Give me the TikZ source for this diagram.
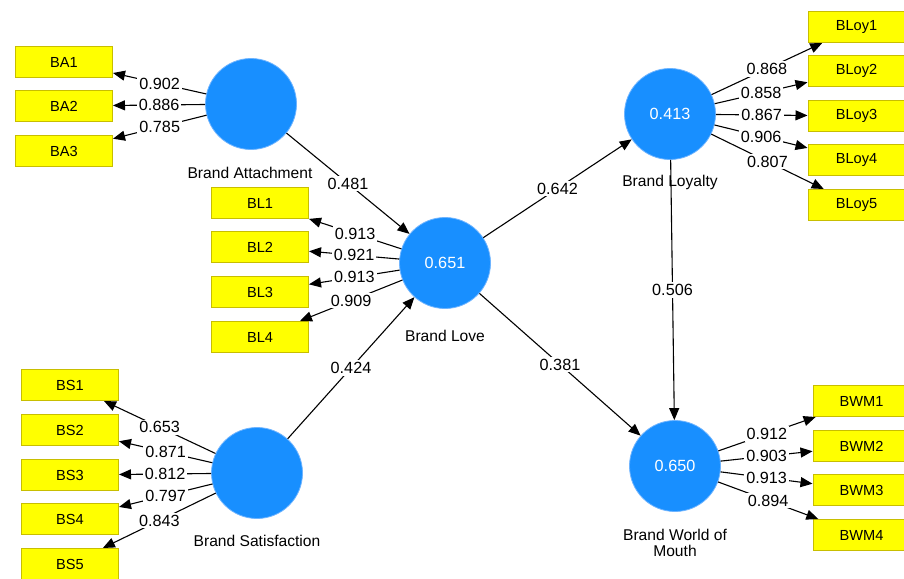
\documentclass[tikz,border=0pt]{standalone}
\usepackage{fontspec}
\setmainfont{Liberation Sans}
\usetikzlibrary{arrows.meta}
\definecolor{lvblue}{RGB}{24,143,255}
\definecolor{lvedge}{RGB}{110,180,255}
\definecolor{boxyellow}{RGB}{255,255,0}
\definecolor{boxedge}{RGB}{200,190,0}
\tikzset{
  lv/.style={circle, fill=lvblue, draw=lvedge, line width=0.8pt, minimum size=91pt, inner sep=0pt, text=white, font=\fontsize{16.2}{19}\selectfont},
  ind/.style={rectangle, fill=boxyellow, draw=boxedge, line width=1pt, minimum width=97pt, minimum height=31pt, inner sep=0pt, font=\fontsize{14.6}{17}\selectfont},
  lvname/.style={font=\fontsize{15.6}{16.5}\selectfont, align=center},
  arr/.style={line width=1.1pt, -{Triangle[length=12pt,width=10pt]}},
  lbl/.style={fill=white, inner sep=2pt, font=\fontsize{16.2}{19}\selectfont}
}
\begin{document}
\begin{tikzpicture}[x=1pt,y=-1pt]
\useasboundingbox (0,0) rectangle (904,578);
\fill[white] (0,0) rectangle (904,578);
% latent variables
\node[lv] (BA) at (251,104) {};
\node[lv] (BL) at (445,263) {0.651};
\node[lv] (BS) at (257,473) {};
\node[lv] (BLoy) at (670,114) {0.413};
\node[lv] (BWM) at (675,466) {0.650};
% names
\node[lvname] (nBA) at (250,173) {Brand Attachment};
\node[lvname] (nBL) at (445,336) {Brand Love};
\node[lvname] (nBS) at (257,541) {Brand Satisfaction};
\node[lvname] (nBLoy) at (670,182) {Brand Loyalty};
\node[lvname] (nBWM) at (675,543) {Brand World of\\Mouth};
% indicators
\node[ind] (BA1) at (64,62) {BA1};
\node[ind] (BA2) at (64,106) {BA2};
\node[ind] (BA3) at (64,151) {BA3};
\node[ind] (BL1) at (260,203) {BL1};
\node[ind] (BL2) at (260,247) {BL2};
\node[ind] (BL3) at (260,292) {BL3};
\node[ind] (BL4) at (260,337) {BL4};
\node[ind] (BS1) at (70,385) {BS1};
\node[ind] (BS2) at (70,430) {BS2};
\node[ind] (BS3) at (70,475) {BS3};
\node[ind] (BS4) at (70,519) {BS4};
\node[ind] (BS5) at (70,564) {BS5};
\node[ind] (BLoy1) at (856.5,27) {BLoy1};
\node[ind] (BLoy2) at (856.5,71) {BLoy2};
\node[ind] (BLoy3) at (856.5,116) {BLoy3};
\node[ind] (BLoy4) at (856.5,160) {BLoy4};
\node[ind] (BLoy5) at (856.5,205) {BLoy5};
\node[ind] (BWM1) at (861.5,401) {BWM1};
\node[ind] (BWM2) at (861.5,446) {BWM2};
\node[ind] (BWM3) at (861.5,490) {BWM3};
\node[ind] (BWM4) at (861.5,535) {BWM4};
% loadings
\draw[arr] (BA) -- node[lbl] {0.902} (BA1);
\draw[arr] (BA) -- node[lbl] {0.886} (BA2);
\draw[arr] (BA) -- node[lbl] {0.785} (BA3);
\draw[arr] (BL) -- node[lbl] {0.913} (BL1);
\draw[arr] (BL) -- node[lbl] {0.921} (BL2);
\draw[arr] (BL) -- node[lbl] {0.913} (BL3);
\draw[arr] (BL) -- node[lbl] {0.909} (BL4);
\draw[arr] (BS) -- node[lbl] {0.653} (BS1);
\draw[arr] (BS) -- node[lbl] {0.871} (BS2);
\draw[arr] (BS) -- node[lbl] {0.812} (BS3);
\draw[arr] (BS) -- node[lbl] {0.797} (BS4);
\draw[arr] (BS) -- node[lbl] {0.843} (BS5);
\draw[arr] (BLoy) -- node[lbl] {0.868} (BLoy1);
\draw[arr] (BLoy) -- node[lbl] {0.858} (BLoy2);
\draw[arr] (BLoy) -- node[lbl] {0.867} (BLoy3);
\draw[arr] (BLoy) -- node[lbl] {0.906} (BLoy4);
\draw[arr] (BLoy) -- node[lbl] {0.807} (BLoy5);
\draw[arr] (BWM) -- node[lbl] {0.912} (BWM1);
\draw[arr] (BWM) -- node[lbl] {0.903} (BWM2);
\draw[arr] (BWM) -- node[lbl] {0.913} (BWM3);
\draw[arr] (BWM) -- node[lbl] {0.894} (BWM4);
% structural paths
\draw[arr] (BA) -- node[lbl] {0.481} (BL);
\draw[arr] (BS) -- node[lbl] {0.424} (BL);
\draw[arr] (BL) -- node[lbl] {0.642} (BLoy);
\draw[arr] (BL) -- node[lbl] {0.381} (BWM);
\draw[arr] (BLoy) -- node[lbl] {0.506} (BWM);
\end{tikzpicture}
\end{document}
